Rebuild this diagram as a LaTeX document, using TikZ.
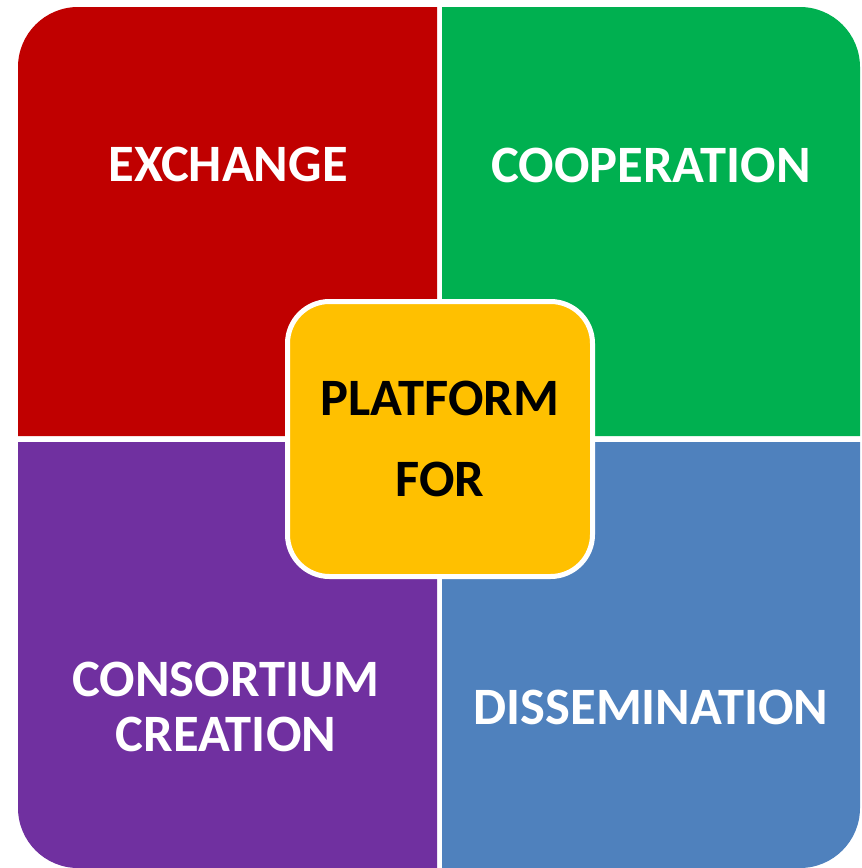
\documentclass[tikz,border=0pt]{standalone}
\usepackage{xcolor}
\usepackage{tikz}
\usepackage{fontspec}
\setmainfont{Carlito}
\definecolor{exred}{HTML}{C00000}
\definecolor{coopgreen}{HTML}{00B050}
\definecolor{conspurple}{HTML}{7030A0}
\definecolor{dissblue}{HTML}{4F81BD}
\definecolor{platyellow}{HTML}{FFC000}
\tikzset{
  qtext/.style={inner sep=0pt, text=white, align=center, font=\bfseries\fontsize{39.4}{41.25}\selectfont},
  ctext/.style={text=black, align=center, font=\bfseries\fontsize{39.4}{60.75}\selectfont}
}

\begin{document}
\begin{tikzpicture}[x=0.75pt,y=0.75pt,yscale=-1,xscale=1]
\useasboundingbox (0,0) rectangle (861,868); %set diagram size

%Shape: Quadrant top left
\draw [draw=none, fill=exred] (18,436) -- (18,67) .. controls (18,33.9) and (44.9,7) .. (78,7) -- (437,7) -- (437,436) -- cycle ;
%Shape: Quadrant top right
\draw [draw=none, fill=coopgreen] (442,7) -- (800,7) .. controls (833.1,7) and (860,33.9) .. (860,67) -- (860,436) -- (442,436) -- cycle ;
%Shape: Quadrant bottom left
\draw [draw=none, fill=conspurple] (18,442) -- (437,442) -- (437,868) -- (78,868) .. controls (44.9,868) and (18,841.1) .. (18,808) -- cycle ;
%Shape: Quadrant bottom right
\draw [draw=none, fill=dissblue] (442,442) -- (860,442) -- (860,808) .. controls (860,841.1) and (833.1,868) .. (800,868) -- (442,868) -- cycle ;

% Centre box
\node (platform) at (440,439) [draw=white, line width=3.75pt, fill=platyellow, rounded corners=31.5pt, minimum width=228.75pt, minimum height=206.25pt, ctext] {PLATFORM\\FOR};

% Text Node
\node (exchange) at (228,164) [qtext] {EXCHANGE};
% Text Node
\node (cooperation) at (651,165) [qtext] {COOPERATION};
% Text Node
\node (consortium) at (226,706.5) [qtext] {CONSORTIUM\\CREATION};
% Text Node
\node (dissemination) at (651,707) [qtext] {DISSEMINATION};

\end{tikzpicture}
\end{document}
